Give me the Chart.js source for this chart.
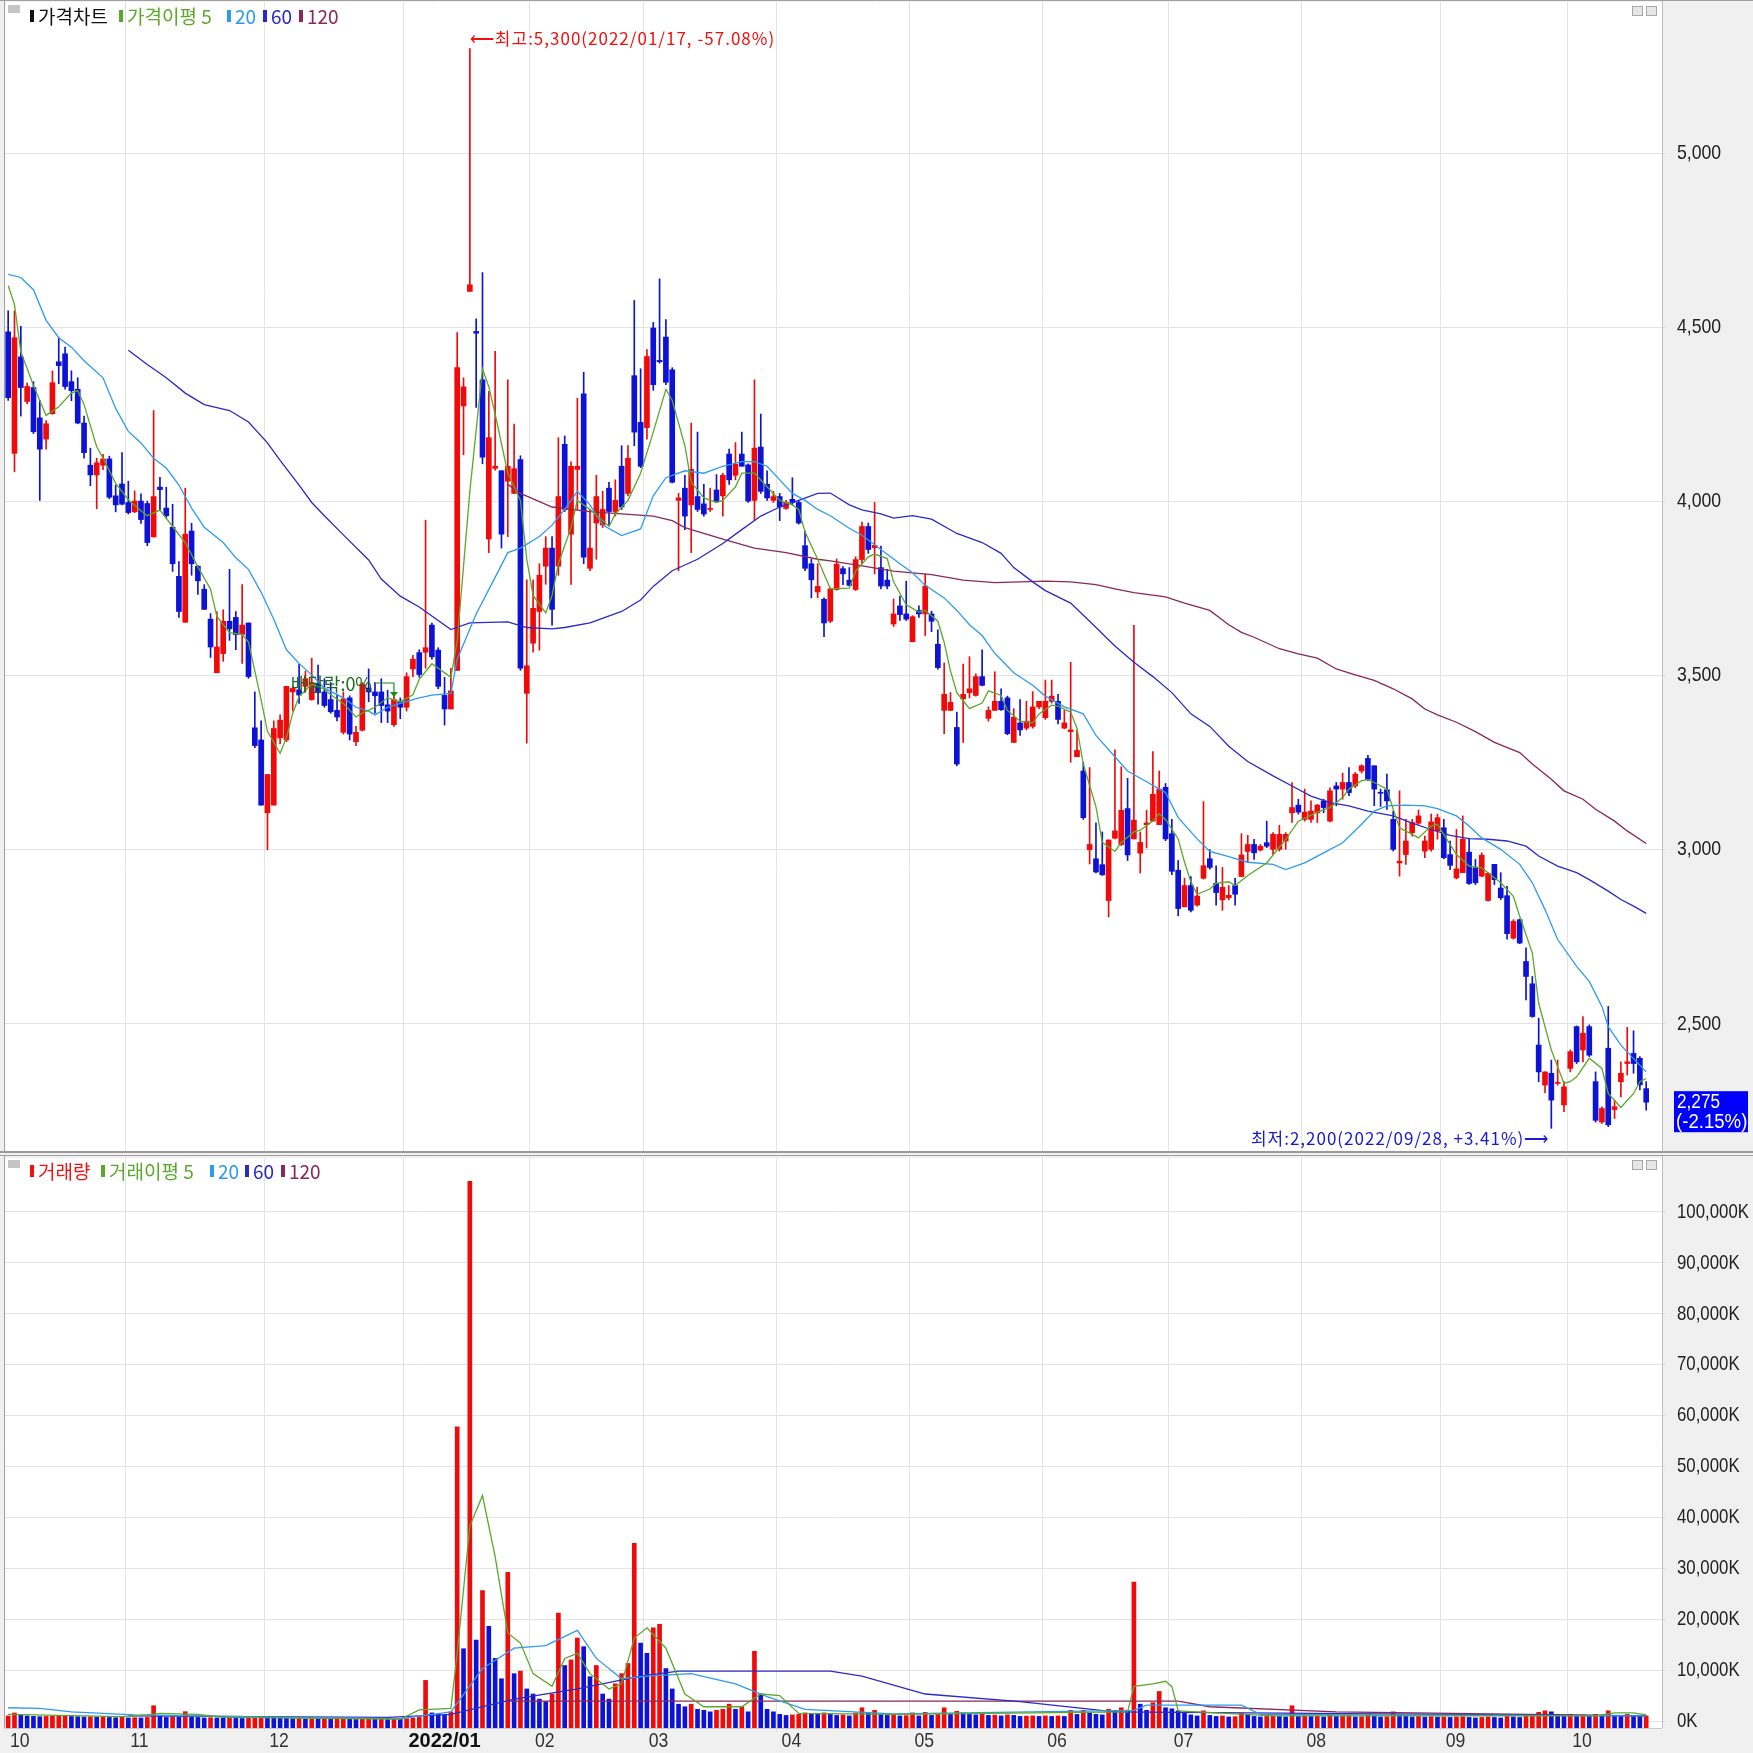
<!DOCTYPE html>
<html><head><meta charset="utf-8">
<script src="https://cdn.jsdelivr.net/npm/chart.js@4.4.1/dist/chart.umd.min.js"></script>
<style>
html,body{margin:0;padding:0;background:#f0f0f0;}
#wrap{position:relative;width:1753px;height:1753px;overflow:hidden;background:#f0f0f0;}
#c1{position:absolute;left:0;top:0;}
#c2{position:absolute;left:0;top:1155px;}
</style></head><body>
<div id="wrap">
<canvas id="c1" width="1753" height="1153"></canvas>
<canvas id="c2" width="1753" height="598"></canvas>
</div>
<script>
// ---------------- DATA (daily candles, 2021/10/01 .. 2022/10/21) ----------------
const opens = [4487,4138,4415,4287,4327,4240,4179,4252,4401,4424,4344,4322,4225,4104,4076,4104,4122,4016,4050,
3997,3970,4001,3994,3898,4041,3981,3926,3785,3653,3915,3814,3748,3662,3508,3563,3656,3667,3618,3651,3350,3315,
3106,3128,3321,3315,3453,3459,3469,3431,3475,3453,3431,3400,3337,3436,3310,3343,3464,3453,3453,3416,3359,3425,
3409,3519,3566,3567,3645,3573,3443,3404,3515,4274,4603,4488,4349,3892,4095,4088,4058,4023,4120,3449,
3593,3684,3814,3866,3814,4164,3906,4092,4309,3808,3938,3932,4038,3971,4101,4023,4361,4227,
4212,4498,4405,4472,4378,4003,4038,3990,4014,3993,3977,4033,4016,4136,4075,4136,4105,4003,4156,4049,4003,
4014,3980,4006,3997,3873,3821,3740,3719,3656,3747,3807,3774,3747,3833,3928,3867,3810,3774,3648,3700,3677,
3597,3687,3677,3677,3590,3400,3400,3351,3433,3451,3443,3497,3377,3400,3426,3436,3308,3364,3349,3354,3410,
3379,3426,3426,3349,3339,3267,3226,3000,2974,2957,2854,3033,3015,3118,3031,2990,3072,3082,3072,3179,
3046,2941,2836,2897,2841,2918,2974,2903,2856,2862,2897,2923,2995,3015,2999,3020,3001,3001,3025,3106,3128,
3087,3087,3106,3140,3082,3183,3174,3193,3183,3226,3262,3241,3165,3172,3087,2962,2986,3049,3076,2996,3001,3054,
3063,2986,2919,2934,2993,2948,2924,2854,2958,2890,2868,2746,2799,2679,2615,2439,2324,2358,2329,2267,
2372,2492,2425,2492,2334,2218,2430,2254,2334,2386,2415,2401,2314];
const highs = [4547,4547,4503,4340,4344,4290,4232,4375,4470,4443,4375,4355,4245,4153,4124,4135,4130,4047,4140,
4058,4030,4022,4001,4261,4069,4041,3992,3827,4038,3937,3816,3761,3678,3684,3689,3805,3684,3761,3651,3453,3370,
3216,3370,3387,3469,3470,3532,3513,3550,3530,3491,3480,3447,3453,3442,3354,3480,3519,3480,3491,3458,3447,3436,
3508,3558,3574,3946,3651,3580,3495,3521,4485,4355,5300,4524,4657,4316,4431,4088,4349,4222,4131,3775,
3775,3821,3899,3899,4183,4188,4114,4296,4371,3977,4075,4029,4055,4062,4160,4160,4577,4381,
4436,4514,4639,4522,4384,4023,4075,4225,4199,4049,4038,4077,4081,4150,4169,4199,4108,4349,4251,4088,4029,
4023,4003,4068,4003,3915,3834,3821,3723,3752,3835,3813,3810,3841,3941,3938,3997,3872,3805,3720,3728,3771,
3672,3700,3792,3685,3631,3536,3451,3395,3533,3554,3505,3574,3410,3511,3462,3441,3405,3431,3426,3454,3426,
3487,3487,3446,3400,3538,3344,3251,3236,3077,3051,3028,3287,3238,3205,3644,3051,3113,3282,3226,3190,
3087,2969,2918,2923,2892,3138,3000,2954,2949,2897,2918,3046,3041,3030,3015,3082,3049,3070,3049,3193,3145,
3174,3140,3130,3145,3178,3193,3220,3236,3222,3244,3271,3241,3174,3217,3111,3169,3087,3087,3114,3039,3102,3102,
3087,3025,3058,3097,3032,2972,2991,2934,2958,2934,2895,2799,2801,2718,2636,2516,2362,2396,2396,2334,
2425,2494,2521,2497,2362,2262,2550,2281,2391,2490,2480,2406,2334];
const lows = [4290,4085,4245,4280,4195,4003,4150,4250,4338,4322,4289,4223,4124,4045,3979,4091,4008,3970,3990,
3964,3968,3937,3873,3898,3975,3953,3799,3667,3653,3788,3733,3690,3552,3508,3541,3601,3574,3535,3492,3293,3128,
3000,3128,3304,3310,3398,3420,3453,3429,3418,3409,3392,3370,3332,3315,3299,3341,3425,3392,3365,3365,3354,3376,
3398,3497,3495,3521,3547,3462,3358,3404,3515,4134,4603,4270,4108,3853,4090,3866,3899,4023,3515,3306,
3567,3573,3762,3645,3788,3971,3762,3977,3821,3801,3834,3925,3932,3958,3977,4016,4160,4097,
4179,4319,4397,4335,4053,3801,3919,3853,3971,3958,3971,3997,3958,4049,4062,4101,3997,3945,4023,4003,3997,
3945,3977,3990,3935,3801,3723,3723,3612,3652,3745,3761,3757,3744,3820,3851,3792,3749,3749,3641,3658,3658,
3597,3667,3615,3626,3518,3333,3400,3241,3308,3436,3441,3470,3369,3400,3400,3330,3308,3328,3344,3349,3405,
3374,3421,3361,3347,3251,3267,3087,2959,2933,2926,2807,3031,3012,2969,3031,2933,3005,3082,3072,3026,
2928,2810,2836,2821,2838,2916,2944,2841,2826,2856,2841,2923,2964,2972,2996,3006,2986,2996,3001,3078,3102,
3082,3078,3078,3106,3080,3126,3145,3155,3178,3220,3198,3126,3124,3116,2996,2924,2958,3039,3073,2977,2996,3030,
2974,2943,2916,2934,2900,2900,2922,2852,2900,2857,2743,2743,2730,2569,2519,2334,2302,2200,2324,2248,
2362,2386,2391,2406,2218,2214,2205,2228,2290,2353,2358,2310,2252];
const closes = [4298,4470,4327,4330,4200,4150,4223,4341,4390,4330,4318,4225,4140,4076,4111,4122,4012,3990,3992,
3968,4001,3948,3882,4014,4034,3959,3821,3684,3906,3821,3772,3690,3582,3582,3656,3634,3618,3645,3497,3299,3128,
3216,3348,3372,3469,3463,3444,3491,3480,3451,3414,3396,3381,3433,3332,3337,3475,3453,3442,3414,3398,3431,3409,
3497,3547,3503,3580,3554,3469,3404,3456,4384,4329,4622,4483,4127,4183,4101,3906,4101,4094,3521,3528,
3693,3788,3866,3690,4014,3977,4101,4101,3840,3866,4014,3977,3971,4003,3984,4124,4199,4101,
4416,4335,4401,4342,4055,4010,3958,4092,3977,3964,3980,4001,4075,4062,4107,4101,4001,4153,4029,4010,4014,
3984,3997,3997,3938,3808,3775,3756,3651,3749,3820,3792,3759,3833,3928,3862,3874,3757,3757,3677,3675,3662,
3669,3677,3757,3656,3523,3446,3423,3246,3446,3462,3497,3472,3400,3426,3402,3333,3380,3344,3369,3410,3426,
3426,3441,3374,3364,3344,3285,3092,3015,2936,2928,3028,3054,3113,2985,3085,3021,3077,3159,3174,3031,
2938,2831,2897,2826,2867,2954,2949,2877,2892,2869,2872,2985,3015,2991,3010,3010,3044,3044,3044,3121,3108,
3108,3111,3128,3121,3169,3174,3193,3164,3217,3241,3202,3174,3162,3140,3001,2967,3025,3078,3097,3025,3080,3092,
2977,2955,2945,3030,2903,2905,2984,2932,2914,2862,2759,2794,2732,2636,2521,2362,2362,2281,2331,2319,
2420,2391,2473,2410,2223,2257,2210,2262,2358,2391,2386,2325,2275];
// volume in thousand shares (K)
const volumes = [1000,1570,1200,1000,900,850,900,950,1000,1050,900,850,800,850,750,800,700,650,750,
600,650,600,700,3000,1100,700,800,750,1830,800,700,600,650,600,550,600,550,500,600,700,900,
800,700,600,550,450,500,400,450,350,400,320,350,400,380,300,350,400,320,350,300,380,320,
450,600,800,7980,1600,1300,1100,1800,57800,14200,106000,15900,25600,18600,12300,8300,29200,9300,9800,6300,
5300,4300,3800,5300,21200,10900,12000,16300,14600,8700,10900,5300,4300,7300,9300,11300,34900,15300,
13300,18300,19000,10300,6300,3300,2800,3300,2300,2100,1800,2100,2300,3300,2300,2800,1800,13700,5300,2300,1800,
1300,1100,1200,1300,1600,1500,1300,1600,1400,1100,1200,1000,1600,2600,1600,2100,1300,1100,1200,1000,1050,
1600,1000,1700,1100,1300,2600,1300,1900,1600,1300,1200,1400,1100,1150,1000,1200,1100,900,950,1000,900,
1000,900,1000,900,2100,1300,2100,1600,1300,1200,2300,1900,2600,2100,27300,3300,2100,3600,5800,2600,
2400,2000,1500,1200,1000,2000,1100,900,1000,800,850,1500,1200,900,800,900,1000,900,800,3000,900,
1000,900,950,800,1200,900,1000,1050,800,850,1300,1000,800,850,1800,1200,1000,800,900,750,850,750,
800,700,800,850,700,600,700,800,700,600,1000,800,700,1000,1300,1700,2000,1800,1300,1200,
1300,1000,1200,1000,1300,900,2000,1100,1000,1300,1100,900,1000];

// moving-average lines as [candle index, value] knots
const priceMa5 = [[0,4620],[1,4565],[2,4430],[4,4333],[6,4247],[8,4272],[10,4311],[11,4318],[12,4278],[14,4157],[15,4124],[17,4052],[19,4005],[21,3973],[22,3959],[24,3975],[26,3928],[28,3882],[30,3812],[32,3748],[33,3670],[35,3623],[37,3618],[38,3596],[40,3430],[41,3340],[43,3277],[44,3321],[45,3392],[46,3440],[48,3475],[50,3462],[51,3445],[53,3420],[55,3381],[56,3392],[58,3409],[60,3436],[62,3425],[64,3445],[65,3489],[67,3534],[70,3495],[71,3599],[73,4029],[75,4381],[76,4329],[77,4251],[79,4081],[81,4003],[82,3834],[83,3730],[85,3680],[86,3730],[87,3821],[89,3925],[90,4003],[92,3977],[94,3945],[95,3928],[96,3964],[98,4003],[100,4081],[102,4199],[104,4322],[105,4290],[107,4160],[108,4055],[110,4010],[112,3997],[113,4003],[115,4042],[116,4081],[118,4081],[120,4042],[122,4003],[124,3990],[125,3977],[126,3912],[128,3834],[130,3749],[133,3751],[134,3800],[136,3841],[137,3849],[139,3836],[140,3769],[142,3703],[144,3682],[145,3687],[147,3656],[148,3595],[149,3513],[150,3451],[152,3405],[154,3421],[155,3456],[157,3443],[158,3400],[160,3369],[162,3364],[163,3390],[165,3415],[166,3412],[168,3395],[169,3349],[170,3246],[172,3123],[173,3021],[175,2995],[176,3021],[178,3051],[179,3056],[181,3082],[182,3103],[183,3087],[185,3031],[186,2964],[187,2908],[188,2872],[190,2887],[191,2903],[193,2908],[194,2897],[196,2926],[199,2962],[202,3030],[204,3082],[207,3108],[209,3121],[211,3150],[212,3174],[214,3198],[215,3201],[216,3193],[218,3174],[219,3116],[220,3063],[222,3044],[223,3034],[225,3068],[226,3073],[227,3044],[229,2986],[231,2953],[233,2948],[234,2934],[236,2905],[238,2866],[239,2809],[241,2703],[242,2559],[244,2425],[246,2329],[247,2334],[248,2348],[250,2401],[252,2372],[253,2300],[255,2260],[257,2300],[258,2334],[259,2343]];
const priceMa20 = [[0,4652],[2,4643],[4,4608],[6,4520],[8,4470],[10,4443],[12,4404],[15,4355],[17,4267],[19,4201],[21,4168],[23,4124],[25,4096],[27,4047],[29,3981],[31,3926],[34,3882],[36,3838],[38,3805],[40,3739],[42,3662],[44,3574],[46,3535],[48,3502],[50,3464],[53,3436],[55,3409],[57,3398],[58,3387],[60,3409],[62,3420],[64,3431],[65,3436],[67,3444],[70,3449],[71,3547],[74,3677],[77,3782],[79,3853],[81,3866],[84,3899],[86,3932],[88,3977],[90,4029],[92,3990],[94,3932],[97,3902],[100,3921],[102,4016],[104,4068],[107,4088],[110,4081],[113,4101],[116,4114],[118,4114],[120,4101],[122,4062],[124,4023],[126,4003],[128,3977],[130,3959],[133,3923],[135,3903],[138,3862],[141,3821],[143,3795],[145,3759],[148,3723],[150,3687],[152,3646],[154,3615],[156,3564],[159,3508],[162,3472],[164,3441],[167,3410],[170,3390],[172,3328],[175,3267],[177,3226],[180,3195],[183,3164],[185,3092],[188,3031],[190,2995],[193,2980],[196,2964],[200,2958],[202,2943],[205,2962],[208,2991],[211,3020],[214,3073],[216,3111],[218,3126],[221,3128],[224,3126],[226,3118],[229,3097],[231,3068],[233,3034],[236,3001],[239,2958],[241,2905],[243,2828],[245,2742],[248,2665],[250,2622],[252,2550],[253,2492],[255,2439],[257,2400],[259,2362]];
const priceMa60 = [[19,4434],[22,4393],[25,4355],[28,4311],[31,4278],[35,4261],[38,4228],[41,4168],[43,4118],[46,4047],[48,3997],[50,3959],[53,3904],[57,3832],[59,3777],[62,3728],[65,3697],[70,3632],[73,3651],[79,3654],[82,3638],[86,3634],[88,3638],[92,3651],[97,3684],[100,3717],[102,3756],[105,3801],[109,3834],[113,3879],[116,3919],[119,3958],[122,3984],[125,4003],[128,4023],[130,4024],[133,3990],[135,3976],[138,3964],[140,3952],[143,3959],[146,3949],[150,3908],[154,3882],[157,3851],[159,3810],[162,3769],[164,3744],[168,3708],[171,3656],[175,3585],[178,3538],[181,3497],[184,3451],[187,3390],[190,3354],[193,3297],[196,3253],[200,3212],[203,3183],[206,3154],[209,3135],[212,3126],[215,3111],[219,3097],[222,3076],[225,3058],[228,3041],[231,3032],[234,3030],[237,3025],[240,3010],[242,2982],[245,2953],[248,2934],[250,2914],[253,2881],[255,2857],[257,2838],[259,2817]];
const priceMa120 = [[79,4049],[81,4023],[86,3984],[92,3971],[97,3964],[102,3958],[105,3945],[107,3925],[113,3892],[118,3866],[123,3853],[128,3834],[130,3829],[135,3815],[140,3800],[146,3790],[151,3774],[156,3767],[160,3769],[164,3771],[168,3769],[172,3761],[175,3749],[178,3738],[183,3726],[186,3708],[190,3687],[193,3646],[195,3624],[197,3610],[201,3577],[204,3562],[207,3550],[210,3519],[213,3502],[216,3486],[219,3462],[222,3433],[224,3404],[226,3387],[229,3366],[232,3339],[235,3308],[239,3279],[241,3246],[244,3202],[246,3169],[249,3145],[251,3116],[254,3082],[256,3054],[259,3018]];
const volMa5 = [[0,1300],[18,850],[22,1200],[24,1500],[27,1400],[30,1300],[34,700],[40,650],[45,550],[62,350],[65,2200],[70,2500],[71,13300],[73,38300],[75,44300],[77,32300],[79,17300],[81,15300],[83,9300],[86,6800],[88,12300],[90,13300],[92,9300],[95,6300],[97,7300],[99,16300],[101,18300],[104,14300],[107,5300],[110,2800],[116,2800],[119,5300],[122,5000],[125,1500],[140,1300],[177,1800],[178,6800],[181,7300],[183,7800],[184,6800],[185,2000],[200,1000],[251,1000],[254,1600],[257,1600],[259,1200]];
const volMa20 = [[0,2600],[5,2500],[10,1800],[20,1200],[40,800],[62,450],[70,1800],[75,10300],[80,14300],[85,14800],[90,17800],[93,12300],[97,8300],[101,8800],[108,9300],[115,7300],[120,4800],[126,2300],[140,1400],[178,2100],[180,3100],[195,3100],[198,1300],[259,1000]];
const volMa60 = [[19,1000],[60,700],[70,1300],[80,4300],[90,6300],[100,8800],[106,9800],[130,9800],[135,8800],[145,5300],[160,3800],[175,1800],[259,1000]];
const volMa120 = [[79,3900],[185,3900],[190,2800],[210,1800],[259,1000]];

// x-axis month labels (first trading day index of each month)
const monthStartIdx = [0,19,41,63,83,101,122,143,164,184,205,227,247];
const monthLabels = ['10','11','12','2022/01','02','03','04','05','06','07','08','09','10'];
const priceTicks = [2500,3000,3500,4000,4500,5000];
const volumeTicks = [0,10000,20000,30000,40000,50000,60000,70000,80000,90000,100000];

const highNote = {idx:73, date:'2022/01/17'};
const lowNote = {idx:244, date:'2022/09/28'};
const exDivNote = {idx:61, text:'배당락:0%'};

// ---------------- STYLE ----------------
const N = closes.length, PAD = 2;
const RED = '#f00a0a', BLUE = '#0c12d6';
const C_MA5 = '#5ba82a', C_MA20 = '#2f9bef', C_MA60 = '#2a2ac8', C_MA120 = '#8a2858';
const GRID = '#e4e4e4';
const LATIN = "'Liberation Sans', Arial, sans-serif";
const KRFONT = "'Noto Sans CJK KR','Noto Sans',sans-serif";
const VOL_MIN = -1375, VOL_MAX = 110600;

const labels = Array.from({length:N+PAD}, (_,i)=> String(i));
const candleColors = closes.map((c,i)=> c >= opens[i] ? RED : BLUE);
const volColors = volumes.map((v,i)=> (i===0 || v >= volumes[i-1]) ? RED : BLUE);
const fmt = v => v.toLocaleString('en-US');
function fromKnots(k){ const a = new Array(N).fill(null); k.forEach(([i,v])=>{a[i]=v;}); return a; }
const monthGrid = ctx => (ctx.index !== undefined && monthStartIdx.includes(ctx.index)) ? GRID : 'rgba(0,0,0,0)';

function lineDs(data, color, order){
  return {type:'line', data:fromKnots(data), borderColor:color, backgroundColor:color, borderWidth:1.3,
    pointRadius:0, spanGaps:true, tension:0, order:order};
}
// narrow text (the reference uses a tall condensed system font)
function condText(ctx, text, x, y, size, sx, color, weight){
  ctx.save();
  ctx.font = (weight ? weight + ' ' : '') + size + 'px ' + LATIN;
  ctx.fillStyle = color; ctx.textBaseline = 'middle'; ctx.textAlign = 'left';
  ctx.translate(x, y); ctx.scale(sx, 1); ctx.fillText(text, 0, 0);
  ctx.restore();
}
function drawLegend(ctx, y, items, xs){
  ctx.save();
  ctx.fillStyle='#c4c4c4'; ctx.fillRect(8, y-11, 12, 8);
  ctx.font = "19px " + KRFONT; ctx.textBaseline='middle'; ctx.textAlign='left';
  items.forEach((it, k) => {
    const x = xs[k];
    ctx.fillStyle = it.color; ctx.fillRect(x, y-6, 4, 12);
    ctx.fillText(it.text, x + 8, y+1);
  });
  ctx.restore();
}
function drawIcons(ctx, y){
  ctx.save(); ctx.strokeStyle='#a8a8a8'; ctx.fillStyle='#e6e6e6'; ctx.lineWidth=1;
  [1632,1646].forEach(x=>{ctx.fillRect(x,y,10,9); ctx.strokeRect(x+0.5,y+0.5,10,9);});
  ctx.restore();
}
function frame(chart, bottomLine){
  const {ctx, chartArea:a, width, height} = chart;
  ctx.save();
  ctx.strokeStyle='#bdbdbd'; ctx.lineWidth=1;
  ctx.beginPath(); ctx.moveTo(a.right+0.5, 0); ctx.lineTo(a.right+0.5, a.bottom); ctx.stroke();
  ctx.strokeStyle='#a0a0a0';
  ctx.beginPath(); ctx.moveTo(a.left-0.5, 0); ctx.lineTo(a.left-0.5, a.bottom); ctx.stroke();
  ctx.beginPath(); ctx.moveTo(0,0.5); ctx.lineTo(width,0.5); ctx.stroke();
  if (bottomLine){ ctx.fillStyle='#9a9a9a'; ctx.fillRect(0, height-2, width, 2); }
  else { ctx.strokeStyle='#c8c8c8'; ctx.beginPath(); ctx.moveTo(a.left, a.bottom+0.5); ctx.lineTo(a.right, a.bottom+0.5); ctx.stroke(); }
  ctx.restore();
}
const bgPlugin = {
  id:'bg',
  beforeDraw(chart){
    const {ctx, chartArea:a, width, height} = chart;
    ctx.save();
    ctx.fillStyle='#f0f0f0'; ctx.fillRect(0,0,width,height);
    ctx.fillStyle='#ffffff'; ctx.fillRect(a.left, a.top, a.right-a.left, a.bottom-a.top);
    ctx.restore();
  }
};

// ---------------- PRICE CHART ----------------
const priceAnno = {
  id:'priceAnno',
  afterDraw(chart){
    const {ctx} = chart; const xs = chart.scales.x, ys = chart.scales.y;
    frame(chart, true);
    drawLegend(ctx, 16, [{text:'가격차트',color:'#111'},{text:'가격이평 5',color:C_MA5},{text:'20',color:C_MA20},{text:'60',color:C_MA60},{text:'120',color:C_MA120}], [30,119,227,263,299]);
    drawIcons(ctx, 6);
    priceTicks.forEach(v => condText(ctx, fmt(v), 1677, ys.getPixelForValue(v), 21, 0.84, '#222'));
    const last = closes[N-1], prev = closes[N-2];
    ctx.save();
    // high note
    const hi = highs[highNote.idx];
    ctx.font = "17px " + KRFONT; ctx.textBaseline='middle';
    ctx.letterSpacing = '1px';
    ctx.fillStyle = '#f01010'; ctx.textAlign='left';
    const hx = xs.getPixelForValue(highNote.idx), hy = ys.getPixelForValue(hi);
    ctx.fillText('⟵최고:' + fmt(hi) + '(' + highNote.date + ', ' + ((last/hi-1)*100).toFixed(2) + '%)', hx, hy - 10);
    // low note
    const lo = lows[lowNote.idx];
    const lx = xs.getPixelForValue(lowNote.idx), ly = ys.getPixelForValue(lo);
    ctx.fillStyle = '#1a1ad0'; ctx.textAlign='right';
    ctx.fillText('최저:' + fmt(lo) + '(' + lowNote.date + ', +' + ((last/lo-1)*100).toFixed(2) + '%)⟶', lx - 2, ly + 10);
    ctx.letterSpacing = '0px';
    // ex-dividend marker
    const ex = xs.getPixelForValue(exDivNote.idx), ey = ys.getPixelForValue(highs[exDivNote.idx]);
    ctx.fillStyle = '#1f6a1f'; ctx.font = "18px " + KRFONT; ctx.textAlign='right';
    ctx.fillText(exDivNote.text, ex - 22, ey - 10);
    ctx.strokeStyle = '#1a8c1a'; ctx.lineWidth = 1.2;
    ctx.beginPath(); ctx.moveTo(ex - 19, ey - 11); ctx.lineTo(ex, ey - 11); ctx.lineTo(ex, ey - 1); ctx.stroke();
    ctx.fillStyle = '#1a8c1a';
    ctx.beginPath(); ctx.moveTo(ex - 4, ey - 2); ctx.lineTo(ex + 4, ey - 2); ctx.lineTo(ex, ey + 3); ctx.closePath(); ctx.fill();
    // current price box
    const cy = ys.getPixelForValue(last);
    ctx.fillStyle = '#0000ff'; ctx.fillRect(1674, cy - 11, 74, 41);
    ctx.restore();
    condText(ctx, fmt(last), 1677, cy, 20, 0.86, '#ffffff');
    condText(ctx, '(' + ((last/prev-1)*100).toFixed(2) + '%)', 1676, cy + 20, 20, 0.93, '#ffffff');
  }
};

new Chart(document.getElementById('c1'), {
  type:'bar',
  data:{ labels, datasets:[
    lineDs(priceMa5, C_MA5, 0), lineDs(priceMa20, C_MA20, 1), lineDs(priceMa60, C_MA60, 2), lineDs(priceMa120, C_MA120, 3),
    {type:'bar', data: opens.map((o,i)=>[o, closes[i]]), backgroundColor: candleColors, barThickness:5, grouped:false, minBarLength:1, order:4},
    {type:'bar', data: lows.map((l,i)=>[l, highs[i]]), backgroundColor: candleColors, barThickness:1, grouped:false, order:5}
  ]},
  options:{
    responsive:false, animation:false, devicePixelRatio:1,
    layout:{padding:{left:5, right:0, top:2, bottom:1}},
    plugins:{legend:{display:false}, tooltip:{enabled:false}},
    scales:{
      x:{ type:'category', offset:true, border:{display:false},
          grid:{color:monthGrid, drawTicks:false, offset:true, lineWidth:1},
          ticks:{display:false, autoSkip:false},
          afterFit(s){ s.height = 0; s.paddingLeft = 0; s.paddingRight = 0; } },
      y:{ position:'right', min:2132, max:5434, border:{display:false},
          grid:{color:GRID, tickLength:5, drawTicks:true},
          afterBuildTicks(s){ s.ticks = priceTicks.map(v=>({value:v})); },
          ticks:{ display:false },
          afterFit(s){ s.width = 91; s.paddingTop = 0; s.paddingBottom = 0; } }
    }
  },
  plugins:[bgPlugin, priceAnno]
});

// ---------------- VOLUME CHART ----------------
const volAnno = {
  id:'volAnno',
  afterDraw(chart){
    const {ctx} = chart; const xs = chart.scales.x, ys = chart.scales.y;
    frame(chart, false);
    drawLegend(ctx, 16, [{text:'거래량',color:'#f01010'},{text:'거래이평 5',color:C_MA5},{text:'20',color:C_MA20},{text:'60',color:C_MA60},{text:'120',color:C_MA120}], [30,101,210,245,281]);
    drawIcons(ctx, 5);
    volumeTicks.forEach(v => condText(ctx, fmt(v) + 'K', 1677, ys.getPixelForValue(v), 21, 0.8, '#222'));
    const half = (xs.getPixelForValue(1) - xs.getPixelForValue(0)) / 2;
    const ly = chart.chartArea.bottom + 13;
    monthStartIdx.forEach((idx, k) => {
      const x0 = xs.getPixelForValue(idx) - half + 5;
      if (monthLabels[k].indexOf('/') >= 0) condText(ctx, monthLabels[k], x0, ly, 20, 1, '#111', 'bold');
      else condText(ctx, monthLabels[k], x0, ly, 21, 0.84, '#333');
    });
  }
};
new Chart(document.getElementById('c2'), {
  type:'bar',
  data:{ labels, datasets:[
    lineDs(volMa5, C_MA5, 0), lineDs(volMa20, C_MA20, 1), lineDs(volMa60, C_MA60, 2), lineDs(volMa120, C_MA120, 3),
    {type:'bar', data: volumes, base: VOL_MIN, backgroundColor: volColors, barThickness:4, grouped:false, order:4}
  ]},
  options:{
    responsive:false, animation:false, devicePixelRatio:1,
    layout:{padding:{left:5, right:0, top:3, bottom:0}},
    plugins:{legend:{display:false}, tooltip:{enabled:false}},
    scales:{
      x:{ type:'category', offset:true, border:{display:false},
          grid:{color:monthGrid, drawTicks:true, tickLength:4, offset:true},
          ticks:{ display:false, autoSkip:false },
          afterFit(s){ s.height = 25; s.paddingLeft = 0; s.paddingRight = 0; } },
      y:{ position:'right', min:VOL_MIN, max:VOL_MAX, border:{display:false},
          grid:{color:GRID, tickLength:5, drawTicks:true},
          afterBuildTicks(s){ s.ticks = volumeTicks.map(v=>({value:v})); },
          ticks:{ display:false },
          afterFit(s){ s.width = 91; s.paddingTop = 0; s.paddingBottom = 0; } }
    }
  },
  plugins:[bgPlugin, volAnno]
});
</script>
</body></html>
